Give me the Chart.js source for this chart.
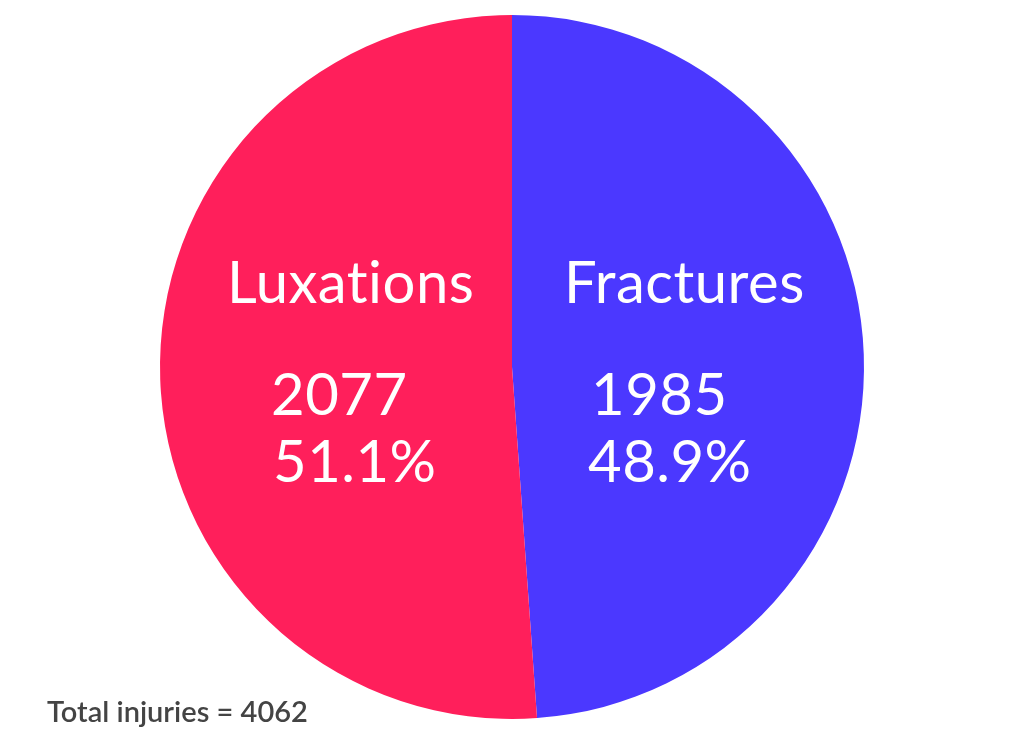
<!DOCTYPE html>
<html>
<head>
<meta charset="utf-8">
<script src="https://cdn.jsdelivr.net/npm/chart.js@4"></script>
<style>
  html, body { margin: 0; padding: 0; background: #fff; }
  #wrap { position: relative; width: 1024px; height: 745px; }
</style>
</head>
<body>
<div id="wrap"><canvas id="pieChart" width="1024" height="745"></canvas></div>
<script>
// --- data ---
const categories = ['Fractures', 'Luxations'];
const injuryCounts = [1985, 2077];
const sliceColors = ['#4B38FF', '#FF1F5B'];
const totalLabel = 'Total injuries';

const total = injuryCounts.reduce((a, b) => a + b, 0);

// where each slice's text block sits (left edge of name / count / percent)
const labelSpots = [
    { name: 564, count: 591, pct: 588 },
    { name: 227, count: 271, pct: 273 }
];

const sliceText = {
    id: 'sliceText',
    afterDraw(chart) {
        const ctx = chart.ctx;
        ctx.save();
        ctx.fillStyle = '#ffffff';
        ctx.textAlign = 'left';
        ctx.textBaseline = 'alphabetic';
        ctx.font = '58px Lato';
        ctx.letterSpacing = '0.5px'; // also keeps the "ti" from joining
        categories.forEach((cat, i) => {
            const spot = labelSpots[i];
            const pct = (injuryCounts[i] / total * 100).toFixed(1) + '%';
            ctx.fillText(cat, spot.name, 303);
            ctx.fillText(String(injuryCounts[i]), spot.count, 415);
            ctx.fillText(pct, spot.pct, 482);
        });

        // total in the bottom-left corner
        ctx.fillStyle = '#444444';
        ctx.font = '600 29px Lato';
        ctx.letterSpacing = '0px';
        ctx.fillText(totalLabel + ' = ' + total, 47, 722);
        ctx.restore();
    }
};

new Chart(document.getElementById('pieChart'), {
    type: 'pie',
    data: {
        labels: categories,
        datasets: [{
            data: injuryCounts,
            backgroundColor: sliceColors,
            borderWidth: 0
        }]
    },
    options: {
        responsive: false,
        animation: false,
        rotation: 0,
        layout: { padding: { top: 15, bottom: 26, left: 0, right: 0 } },
        plugins: {
            legend: { display: false },
            tooltip: { enabled: false }
        }
    },
    plugins: [sliceText]
});
</script>
</body>
</html>
